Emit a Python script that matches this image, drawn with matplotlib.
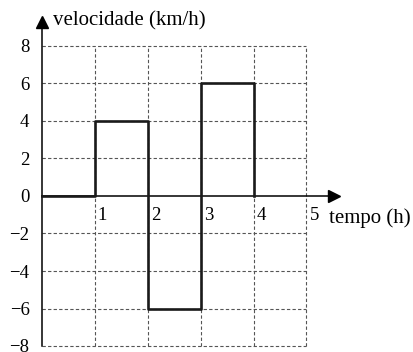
import matplotlib.pyplot as plt
import matplotlib.transforms as mtransforms

plt.rcParams['font.family'] = ['Liberation Serif', 'DejaVu Serif']

# velocity (km/h) held constant from each start time to the next
tempo = [0, 1, 2, 3, 4]
velocidade = [0, 4, -6, 6, 0]

x_ticks = [1, 2, 3, 4, 5]
y_ticks = [-8, -6, -4, -2, 0, 2, 4, 6, 8]

fig = plt.figure(figsize=(4.14, 3.52), dpi=100)
ax = fig.add_axes([0, 0, 1, 1])
ax.set_xlim(-42 / 52.9, 372 / 52.9)
ax.set_ylim(-156 / 18.75, 196 / 18.75)

# dashed grid, only inside the 0..5 x -8..8 box
grid_kw = dict(colors='#555555', linewidth=0.8, linestyles=(0, (3, 2)), zorder=1)
ax.hlines([y for y in y_ticks if y != 0], 0, 5, **grid_kw)
ax.vlines(x_ticks, -8, 8, **grid_kw)

# axes as spines through the origin
for s in ['top', 'right']:
    ax.spines[s].set_visible(False)
ax.spines['left'].set_position(('data', 0))
ax.spines['bottom'].set_position(('data', 0))
ax.spines['left'].set_bounds(-8, 9.2)
ax.spines['bottom'].set_bounds(0, 5.45)
ax.spines['left'].set_linewidth(1.1)
ax.spines['bottom'].set_linewidth(1.1)
ax.plot(5.52, 0, marker='>', markersize=9, color='black', clip_on=False, zorder=5)
ax.plot(0, 9.3, marker='^', markersize=9, color='black', clip_on=False, zorder=5)

ax.set_yticks(y_ticks)
ax.set_xticks(x_ticks)
ax.tick_params(length=0, labelsize=13.5)
ax.tick_params(axis='y', pad=9)
ax.tick_params(axis='x', pad=8)
shift = mtransforms.ScaledTranslation(3 / 100, 0, fig.dpi_scale_trans)
for lab in ax.get_xticklabels():
    lab.set_horizontalalignment('left')
    lab.set_transform(lab.get_transform() + shift)

ax.plot(tempo, velocidade, drawstyle='steps-post', color='#1a1a1a', linewidth=1.9, zorder=4)

ax.text(0.21, 9.35, 'velocidade (km/h)', fontsize=15, va='center', ha='left')
ax.text(5.43, -1.17, 'tempo (h)', fontsize=15, va='center', ha='left')

fig.savefig('out.png', dpi=100)
